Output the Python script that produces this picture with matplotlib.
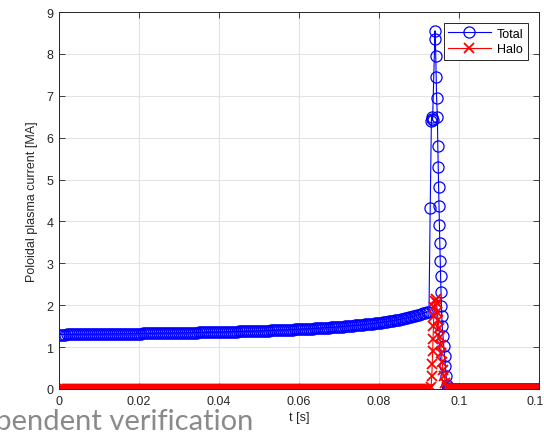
import numpy as np
import matplotlib
matplotlib.use('Agg')
import matplotlib.pyplot as plt
from matplotlib.ticker import FuncFormatter

plt.rcParams['font.family'] = ['Liberation Sans', 'DejaVu Sans']

### total current, slow phase sampled every 0.5 ms from t = 0
total_slow = [
    1.300, 1.300, 1.301, 1.301, 1.302, 1.302, 1.303, 1.303, 1.304, 1.304,
    1.305, 1.305, 1.306, 1.306, 1.307, 1.307, 1.308, 1.309, 1.310, 1.310,
    1.311, 1.311, 1.312, 1.312, 1.313, 1.313, 1.314, 1.315, 1.316, 1.316,
    1.317, 1.317, 1.318, 1.318, 1.319, 1.320, 1.321, 1.321, 1.322, 1.323,
    1.324, 1.324, 1.325, 1.325, 1.326, 1.327, 1.328, 1.329, 1.330, 1.330,
    1.331, 1.332, 1.333, 1.333, 1.334, 1.335, 1.336, 1.337, 1.338, 1.339,
    1.340, 1.340, 1.341, 1.342, 1.343, 1.344, 1.345, 1.346, 1.347, 1.348,
    1.349, 1.350, 1.351, 1.352, 1.353, 1.354, 1.356, 1.357, 1.358, 1.359,
    1.360, 1.361, 1.363, 1.364, 1.365, 1.366, 1.368, 1.369, 1.370, 1.372,
    1.373, 1.374, 1.376, 1.377, 1.379, 1.380, 1.382, 1.383, 1.385, 1.386,
    1.388, 1.389, 1.391, 1.392, 1.394, 1.396, 1.398, 1.400, 1.402, 1.403,
    1.405, 1.407, 1.409, 1.411, 1.413, 1.415, 1.418, 1.420, 1.422, 1.424,
    1.426, 1.428, 1.431, 1.433, 1.436, 1.438, 1.441, 1.444, 1.447, 1.449,
    1.452, 1.455, 1.458, 1.461, 1.464, 1.467, 1.470, 1.473, 1.477, 1.480,
    1.484, 1.488, 1.492, 1.495, 1.499, 1.503, 1.508, 1.512, 1.516, 1.521,
    1.526, 1.530, 1.535, 1.540, 1.546, 1.551, 1.557, 1.562, 1.568, 1.574,
    1.581, 1.587, 1.594, 1.601, 1.608, 1.616, 1.624, 1.632, 1.640, 1.649,
    1.658, 1.667, 1.677, 1.687, 1.698, 1.709, 1.721, 1.733, 1.746, 1.760,
    1.774, 1.789, 1.804, 1.821, 1.838, 1.850,
]
dt_slow = 0.0005

### total current during the quench / spike
t_spike = [0.0928, 0.0931, 0.0932, 0.0933, 0.0934, 0.0940, 0.0941, 0.0942,
           0.0943, 0.0944, 0.0946, 0.0947, 0.0948, 0.0949, 0.0950, 0.0951,
           0.0952, 0.0953, 0.0954, 0.0955, 0.0956, 0.0957, 0.0958, 0.0960,
           0.0962, 0.0964, 0.0966, 0.0968, 0.0970, 0.0972]
total_spike = [4.32, 6.40, 6.50, 6.45, 6.42, 8.55, 8.35, 7.95,
               7.45, 6.95, 6.50, 5.80, 5.30, 4.82, 4.37, 3.91,
               3.48, 3.05, 2.70, 2.31, 1.98, 1.74, 1.50, 1.26,
               1.03, 0.79, 0.55, 0.31, 0.10, 0.02]

### halo current during the quench
t_halo = [0.0930, 0.0932, 0.0933, 0.0934, 0.0935, 0.0936, 0.0937, 0.0938,
          0.0940, 0.0942, 0.0944, 0.0946, 0.0948, 0.0950, 0.0952, 0.0954,
          0.0956, 0.0958, 0.0960, 0.0963, 0.0966, 0.0970]
halo_spike = [0.05, 0.30, 0.60, 0.90, 1.20, 1.50, 1.75, 1.95,
              2.10, 2.15, 2.05, 1.85, 1.65, 1.45, 1.25, 1.05,
              0.85, 0.65, 0.45, 0.30, 0.15, 0.05]

halo_slow = [0.0] * len(total_slow)     # no halo before the quench
t_tail_start = 0.0975
n_tail = 46
tail = [0.0] * n_tail                   # both currents gone after the quench

t_slow = np.arange(len(total_slow)) * dt_slow
t_tail = t_tail_start + np.arange(n_tail) * dt_slow

t_total = np.concatenate([t_slow, t_spike, t_tail])
i_total = np.concatenate([total_slow, total_spike, tail])
t_h = np.concatenate([t_slow, t_halo, t_tail])
i_halo = np.concatenate([halo_slow, halo_spike, tail])

fig = plt.figure(figsize=(5.44, 4.35), dpi=100)
ax = fig.add_axes([59/544, 45/435, 480/544, 377/435])

ax.plot(t_total, i_total, color='b', marker='o', markersize=8,
        markerfacecolor='none', markeredgewidth=0.9, linewidth=0.8, label='Total')
ax.plot(t_h, i_halo, color='r', marker='x', markersize=7,
        markeredgewidth=1.3, linewidth=0.8, label='Halo')

ax.set_xlim(0, 0.12)
ax.set_ylim(0, 9)
ax.set_xticks(np.arange(0, 0.121, 0.02))
ax.set_yticks(range(0, 10))
ax.xaxis.set_major_formatter(FuncFormatter(lambda v, p: '%g' % round(v, 4)))
ax.grid(True, color='#e3e3e3', linewidth=0.8)
ax.set_axisbelow(True)
ax.tick_params(direction='in', top=True, right=True, length=4, width=0.6,
               labelsize=9, colors='#262626', pad=4)
for s in ax.spines.values():
    s.set_color('#262626')
    s.set_linewidth(0.7)

ax.set_xlabel('t [s]', fontsize=9, color='#262626', labelpad=3)
ax.set_ylabel('Poloidal plasma current [MA]', fontsize=9, color='#262626', labelpad=6)

leg = ax.legend(loc='upper right', fontsize=9, fancybox=False, framealpha=1,
                borderaxespad=0.9, handlelength=3.4, borderpad=0.35,
                labelspacing=0.3, handletextpad=0.5)
leg.get_frame().set_edgecolor('#262626')
leg.get_frame().set_linewidth(0.7)

fig.text(253/544, 5/435, 'Independent verification', ha='right', va='baseline',
         fontsize=21, color='#8a8a8a', family=['Lato', 'DejaVu Sans'])

fig.savefig('out.png', dpi=100)
